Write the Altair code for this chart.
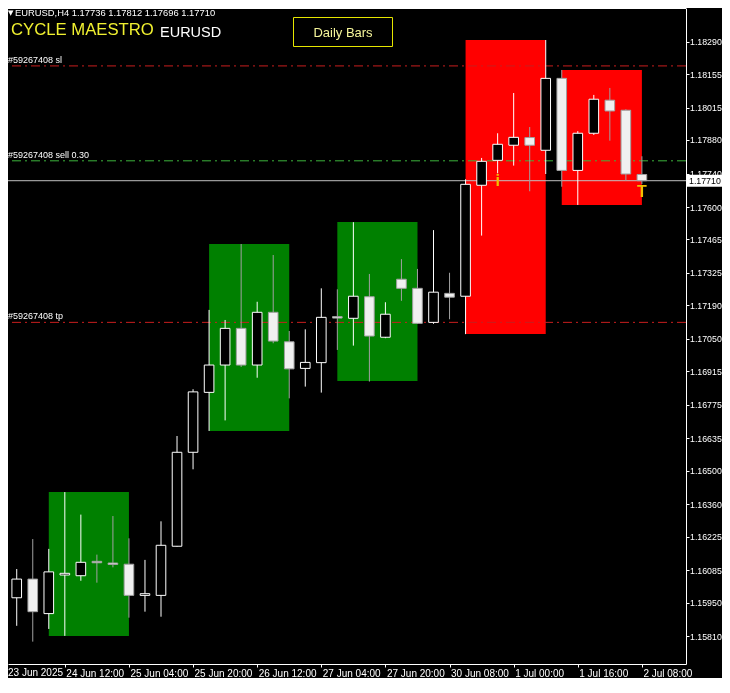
import altair as alt
import pandas as pd

# ---------------- data (EURUSD H4) ----------------
bar_index = list(range(41))
open_price = [1.15781, 1.15970, 1.16048, 1.15904, 1.16065, 1.16062, 1.16122, 1.16115, 1.16110, 1.15980,
              1.15980, 1.16185, 1.16577, 1.16827, 1.16941, 1.17094, 1.16941, 1.17161, 1.17038, 1.16927,
              1.16951, 1.17143, 1.17136, 1.17226, 1.17057, 1.17299, 1.17261, 1.17119, 1.17240, 1.17228,
              1.17691, 1.17795, 1.17858, 1.17890, 1.17837, 1.18137, 1.17753, 1.17908, 1.18046, 1.18004,
              1.17736]
high_price = [1.16079, 1.16090, 1.16215, 1.16174, 1.16411, 1.16317, 1.16150, 1.16311, 1.16218, 1.16128,
              1.16289, 1.16645, 1.16840, 1.17171, 1.17129, 1.17446, 1.17205, 1.17400, 1.17083, 1.17090,
              1.17261, 1.17257, 1.17537, 1.17321, 1.17203, 1.17383, 1.17342, 1.17504, 1.17326, 1.17716,
              1.17805, 1.17908, 1.18076, 1.17934, 1.18297, 1.18172, 1.17917, 1.18068, 1.18097, 1.18008,
              1.17812]
low_price = [1.15724, 1.15853, 1.15787, 1.15840, 1.15811, 1.16041, 1.16033, 1.16097, 1.15887, 1.15912,
             1.15891, 1.16183, 1.16506, 1.16666, 1.16710, 1.16933, 1.16888, 1.17032, 1.16802, 1.16851,
             1.16826, 1.17004, 1.17022, 1.16872, 1.17053, 1.17209, 1.17113, 1.17113, 1.17132, 1.17070,
             1.17481, 1.17741, 1.17773, 1.17666, 1.17738, 1.17685, 1.17609, 1.17901, 1.17877, 1.17709,
             1.17696]
close_price = [1.15969, 1.16048, 1.15912, 1.16078, 1.16072, 1.16118, 1.16116, 1.16109, 1.15980, 1.15987,
               1.16189, 1.16577, 1.16829, 1.16941, 1.17094, 1.16941, 1.17161, 1.17041, 1.16925, 1.16952,
               1.17140, 1.17137, 1.17228, 1.17062, 1.17153, 1.17261, 1.17115, 1.17245, 1.17224, 1.17695,
               1.17791, 1.17862, 1.17891, 1.17858, 1.18137, 1.17753, 1.17908, 1.18050, 1.18001, 1.17738,
               1.17710]

# daily-bar boxes (start bar, end bar, high, low, direction)
box_start = [3, 13, 21, 29, 35]
box_end = [8, 18, 26, 34, 40]
box_high = [1.16411, 1.17446, 1.17538, 1.18297, 1.18172]
box_low = [1.15811, 1.16666, 1.16874, 1.17070, 1.17609]
box_dir = ["up", "up", "up", "down", "down"]

# order lines
order_price = [1.18189, 1.17793, 1.17119]
order_label = ["#59267408 sl", "#59267408 sell 0.30", "#59267408 tp"]
order_side = ["sl", "sell", "tp"]

current_price = 1.17710

# trade markers
marker_bar = [31, 40]
marker_price = [1.17707, 1.17661]
marker_text = ["i", "T"]

# axis ticks
ytick_values = [1.18290, 1.18155, 1.18015, 1.17880, 1.17740, 1.17600, 1.17465, 1.17325, 1.17190, 1.17050,
                1.16915, 1.16775, 1.16635, 1.16500, 1.16360, 1.16225, 1.16085, 1.15950, 1.15810, 1.15670]
xtick_index = [4, 8, 12, 16, 20, 24, 28, 32, 36, 40]
xtick_label = ["24 Jun 12:00", "25 Jun 04:00", "25 Jun 20:00", "26 Jun 12:00", "27 Jun 04:00",
               "27 Jun 20:00", "30 Jun 08:00", "1 Jul 00:00", "1 Jul 16:00", "2 Jul 08:00"]
first_label = "23 Jun 2025"

symbol = "EURUSD"
timeframe = "H4"
indicator_name = "CYCLE MAESTRO"
button_text = "Daily Bars"

# ---------------- tables ----------------
candles = pd.DataFrame({"i": bar_index, "o": open_price, "h": high_price,
                        "l": low_price, "c": close_price})
boxes = pd.DataFrame({"s": box_start, "e": box_end, "hi": box_high, "lo": box_low, "dir": box_dir})
orders = pd.DataFrame({"price": order_price, "label": order_label, "side": order_side})
cur = pd.DataFrame({"price": [current_price], "txt": [f"{current_price:.5f}"]})
marks = pd.DataFrame({"i": marker_bar, "price": marker_price, "t": marker_text})
header = pd.DataFrame({"t": [f"{symbol},{timeframe}  {open_price[-1]:.5f} {high_price[-1]:.5f} "
                             f"{low_price[-1]:.5f} {close_price[-1]:.5f}"]})

W, H = 678, 656
FONT = "Liberation Sans"

xs = alt.Scale(domain=[0.4554, 42.751], nice=False, zero=False)
ys = alt.Scale(domain=[1.156937, 1.184306], nice=False, zero=False)

label_expr = " : ".join(f"datum.value == {v} ? '{t}'" for v, t in zip(xtick_index, xtick_label)) + " : ''"

xaxis = alt.Axis(values=xtick_index, labelExpr=label_expr, orient="bottom", labelAlign="left",
                 labelBaseline="top", labelPadding=1, labelOffset=1, tickSize=3, tickColor="#ffffff",
                 domainColor="#ffffff", labelColor="#ffffff", labelFont=FONT, labelFontSize=10,
                 grid=False, title=None, labelOverlap=False, labelFlush=False, labelBound=False)
yaxis = alt.Axis(values=ytick_values, format=".5f", orient="right", tickSize=3, labelPadding=0.5,
                 tickColor="#ffffff", domainColor="#ffffff", labelColor="#ffffff", labelFont=FONT,
                 labelFontSize=8.8, labelBaseline="middle", grid=False, title=None, labelOverlap=False,
                 labelFlush=False, labelBound=False)


def X(field):
    return alt.X(field, scale=xs, axis=xaxis)


def Y(field):
    return alt.Y(field, scale=ys, axis=yaxis)


bull = "datum.c >= datum.o"

box_layer = alt.Chart(boxes).mark_rect(clip=True).encode(
    x=X("s:Q"), x2="e:Q",
    y=Y("hi:Q"), y2="lo:Q",
    fill=alt.condition("datum.dir == 'up'", alt.value("#008000"), alt.value("#ff0000")),
)

red_lines = alt.Chart(orders).transform_filter("datum.side != 'sell'").mark_rule(
    color="#c81e1e", strokeWidth=1, strokeDash=[9, 4, 2, 4], clip=True
).encode(y=Y("price:Q"))

green_line = alt.Chart(orders).transform_filter("datum.side == 'sell'").mark_rule(
    color="#3cb43c", strokeWidth=1, strokeDash=[9, 4, 2, 4], blend="screen", clip=True
).encode(y=Y("price:Q"))

order_text = alt.Chart(orders).mark_text(
    align="left", baseline="alphabetic", dy=-3, font=FONT, fontSize=9, color="#ffffff"
).encode(x=alt.value(0), y=Y("price:Q"), text="label:N")

cur_line = alt.Chart(cur).mark_rule(color="#c0c0c0", strokeWidth=1, clip=True).encode(
    y=Y("price:Q"))

wick = alt.Chart(candles).mark_rule(strokeWidth=1, clip=True).encode(
    x=X("i:Q"),
    y=Y("l:Q"), y2="h:Q",
    color=alt.condition(bull, alt.value("#ffffff"), alt.value("#a0a0a0")),
)

body = alt.Chart(candles).transform_calculate(
    xl="datum.i - 0.3", xr="datum.i + 0.3"
).mark_rect(strokeWidth=1, clip=True).encode(
    x=X("xl:Q"), x2="xr:Q",
    y=Y("o:Q"), y2="c:Q",
    fill=alt.condition(bull, alt.value("#000000"), alt.value("#f0f0f0")),
    stroke=alt.condition(bull, alt.value("#ffffff"), alt.value("#a0a0a0")),
)

marker_layer = alt.Chart(marks).mark_text(
    color="#f0c000", font=FONT, fontSize=16, fontWeight="bold", baseline="middle", align="center"
).encode(x=X("i:Q"), y=Y("price:Q"), text="t:N")

cur_box = alt.Chart(cur).mark_rule(color="#ffffff", strokeWidth=12).encode(
    x=alt.value(W + 1), x2=alt.value(W + 36), y=Y("price:Q"))
cur_txt = alt.Chart(cur).mark_text(
    align="left", baseline="middle", color="#000000", font=FONT, fontSize=8.8
).encode(x=alt.value(W + 3), y=Y("price:Q"), text="txt:N")

top_border = alt.Chart(cur).mark_rule(color="#ffffff", strokeWidth=1).encode(
    x=alt.value(0), x2=alt.value(W), y=alt.value(0.5))

first_lbl = alt.Chart(pd.DataFrame({"t": [first_label]})).mark_text(
    align="left", baseline="top", color="#ffffff", font=FONT, fontSize=10
).encode(x=alt.value(0), y=alt.value(H + 4), text="t:N")

tri = alt.Chart(pd.DataFrame({"t": ["\u25BC"]})).mark_text(
    align="left", baseline="middle", color="#ffffff", font="DejaVu Sans", fontSize=7
).encode(x=alt.value(0), y=alt.value(5), text="t:N")
head_txt = alt.Chart(header).mark_text(
    align="left", baseline="middle", color="#ffffff", font=FONT, fontSize=9.4
).encode(x=alt.value(7), y=alt.value(5), text="t:N")

title_txt = alt.Chart(pd.DataFrame({"t": [indicator_name]})).mark_text(
    align="left", baseline="alphabetic", color="#f0f030", font=FONT, fontSize=16.7
).encode(x=alt.value(3), y=alt.value(27), text="t:N")
sym_txt = alt.Chart(pd.DataFrame({"t": [symbol]})).mark_text(
    align="left", baseline="alphabetic", color="#ffffff", font=FONT, fontSize=14.5
).encode(x=alt.value(152), y=alt.value(29), text="t:N")

btn_rect = alt.Chart(pd.DataFrame({"t": [button_text]})).mark_rect(
    fill="#000000", stroke="#e6e600", strokeWidth=1
).encode(x=alt.value(285.5), x2=alt.value(384.5), y=alt.value(9.5), y2=alt.value(38.5))
btn_txt = alt.Chart(pd.DataFrame({"t": [button_text]})).mark_text(
    align="center", baseline="alphabetic", color="#f5f59a", font=FONT, fontSize=13
).encode(x=alt.value(335), y=alt.value(28.7), text="t:N")

chart = alt.layer(
    box_layer, red_lines, green_line, cur_line, wick, body, marker_layer, order_text,
    cur_box, cur_txt, top_border, first_lbl, tri, head_txt, title_txt, sym_txt, btn_rect, btn_txt
).properties(
    width=W, height=H,
    autosize=alt.AutoSizeParams(type="none"),
    padding={"left": 0, "top": 0, "right": 36, "bottom": 14},
    background="#000000",
).configure_view(strokeWidth=0)

chart.save("out.html", embed_options={"renderer": "svg", "actions": False})
